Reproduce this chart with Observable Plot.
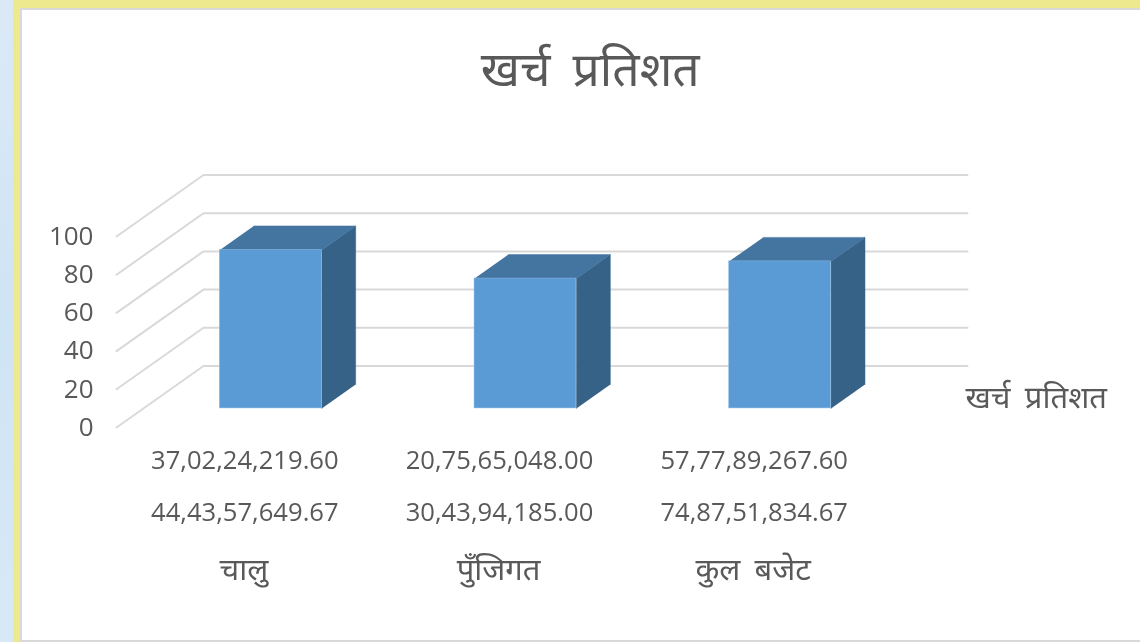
<!DOCTYPE html>
<html>
<head>
<meta charset="utf-8">
<script src="https://cdn.jsdelivr.net/npm/d3@7"></script>
<script src="https://cdn.jsdelivr.net/npm/@observablehq/plot@0.6"></script>
<style>
html,body{margin:0;padding:0;width:1140px;height:642px;overflow:hidden;background:linear-gradient(180deg,#dbe9f6,#cfe4f5 50%,#d8e9f6);}
#yellow{position:absolute;left:13px;top:0;width:1127px;height:642px;background:#ece98f;}
#panel{position:absolute;left:20px;top:8px;width:1120px;height:634px;box-sizing:border-box;background:#fff;border:2px solid #d9d9d9;border-right:none;}
#chart{position:absolute;left:0;top:0;filter:blur(0.45px);}
#chart svg{display:block;background:transparent;}
#chart text{word-spacing:0.2em;}
</style>
</head>
<body>
<div id="yellow"></div>
<div id="panel"></div>
<div id="chart"></div>
<script>
const categories = ["चालु", "पुँजिगत", "कुल बजेट"];
const spentLabels = ["37,02,24,219.60", "20,75,65,048.00", "57,77,89,267.60"];
const budgetLabels = ["44,43,57,649.67", "30,43,94,185.00", "74,87,51,834.67"];
const percent = [83.0, 68.0, 77.0];
const yTicks = [0, 20, 40, 60, 80, 100];
const seriesName = "खर्च प्रतिशत";

// oblique depth, in scale units
const depthX = 0.3416, depthY = 32.2;
const barFront = 0.31, barBack = 0.70, barWidth = 0.4;
const proj = (u, v, w) => ({x: u + w * depthX, y: v + w * depthY});

const gridData = yTicks.flatMap(v => [proj(0, v, 0), proj(0, v, 1), proj(3, v, 1)].map(p => ({...p, v})));

const faces = percent.flatMap((p, i) => {
  const l = i + 0.5 - barWidth / 2, r = i + 0.5 + barWidth / 2;
  return [
    {f: "top-" + i, pts: [proj(l, p, barFront), proj(r, p, barFront), proj(r, p, barBack), proj(l, p, barBack)]},
    {f: "side-" + i, pts: [proj(r, 0, barFront), proj(r, p, barFront), proj(r, p, barBack), proj(r, 0, barBack)]}
  ];
});
const faceRows = f => faces.filter(d => d.f.startsWith(f)).flatMap(d => d.pts.map(q => ({...q, f: d.f})));
const fronts = percent.map((p, i) => ({
  x1: proj(i + 0.5 - barWidth / 2, 0, barFront).x,
  x2: proj(i + 0.5 + barWidth / 2, 0, barFront).x,
  y1: proj(0, 0, barFront).y,
  y2: proj(0, p, barFront).y
}));

const font = "'Open Sans','Noto Sans',sans-serif";
const ink = "#595959";
const idx = categories.map((c, i) => i);

const chart = Plot.plot({
  width: 1140, height: 642,
  marginLeft: 116, marginRight: 260, marginTop: 236, marginBottom: 215,
  x: {domain: [0, 3]},
  y: {domain: [0, 100]},
  style: {fontFamily: font, background: "transparent", overflow: "visible"},
  marks: [
    Plot.line(gridData, {x: "x", y: "y", z: "v", stroke: "#d9d9d9", strokeWidth: 2}),
    Plot.line(faceRows("side"), {x: "x", y: "y", z: "f", fill: "#376287", stroke: "#376287", strokeWidth: 0.5}),
    Plot.line(faceRows("top"), {x: "x", y: "y", z: "f", fill: "#4474a0", stroke: "#4474a0", strokeWidth: 0.5}),
    Plot.rect(fronts, {x1: "x1", x2: "x2", y1: "y1", y2: "y2", fill: "#5b9bd5", stroke: "#8fbbe2", strokeWidth: 0.5}),
    Plot.axisY({ticks: yTicks, tickSize: 0, tickPadding: 23, fontSize: 26, color: ink, label: null, fill: ink}),
    Plot.axisX({ticks: [], label: null, tickSize: 0}),
    Plot.text(idx, {x: i => i + 0.5, text: i => spentLabels[i], frameAnchor: "bottom", dy: 41, dx: 1, fontSize: 25.6, fill: ink}),
    Plot.text(idx, {x: i => i + 0.5, text: i => budgetLabels[i], frameAnchor: "bottom", dy: 93, dx: 1, fontSize: 25.6, fill: ink}),
    Plot.text(idx, {x: i => i + 0.5, text: i => categories[i], frameAnchor: "bottom", dy: 152, fontSize: 31, fill: ink}),
    Plot.text([seriesName], {frameAnchor: "right", textAnchor: "start", dx: 85, y: [0], dy: -29, fontSize: 31, fill: ink}),
    Plot.text([seriesName], {frameAnchor: "top", x: [1.86], dy: -185, fontSize: 48, fill: ink})
  ]
});
document.getElementById("chart").appendChild(chart);
</script>
</body>
</html>
